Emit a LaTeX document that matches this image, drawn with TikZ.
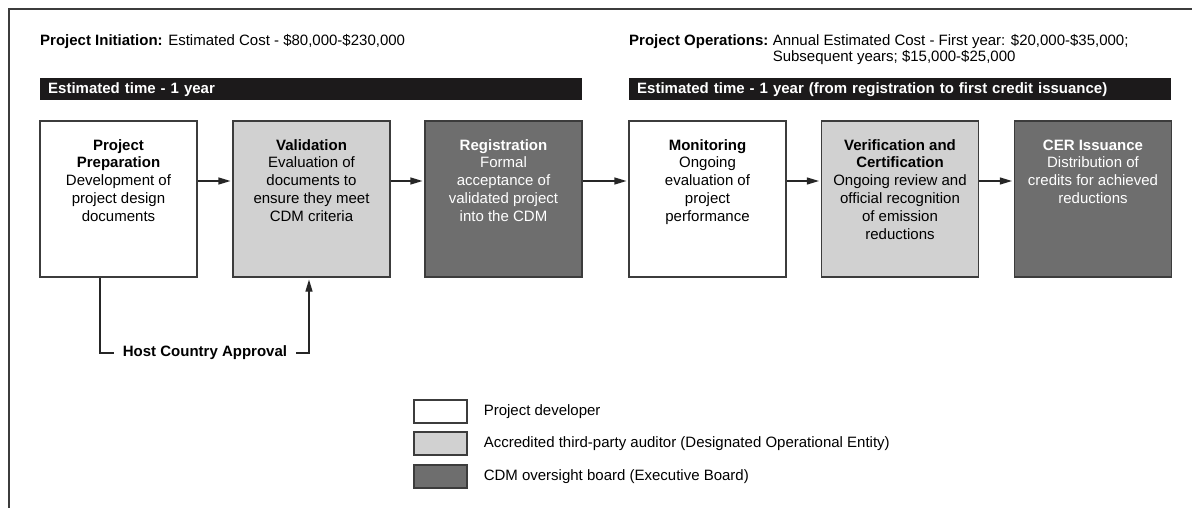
\documentclass[tikz,border=0pt]{standalone}
\usepackage{fontspec}
\setmainfont{Liberation Sans}
\usetikzlibrary{arrows.meta,positioning}
\definecolor{audgray}{HTML}{D1D1D1}
\definecolor{brdgray}{HTML}{6E6E6E}
\definecolor{edge}{HTML}{3C3C3C}
\definecolor{barblack}{HTML}{1C1A1B}
\newcommand{\stg}[2]{\parbox[c][156pt][t]{157pt}{\centering\rule{0pt}{29pt}\textbf{#1}\\#2}}

\begin{document}
\begin{tikzpicture}[x=1pt,y=-1pt,font=\fontsize{15}{17.8}\selectfont,
	stgbox/.style={draw=edge,line width=1.1pt,inner sep=0pt},
	devbox/.style={stgbox,fill=white}, audbox/.style={stgbox,fill=audgray},
	brdbox/.style={stgbox,fill=brdgray,text=white},
	keybox/.style={minimum width=53pt,minimum height=23pt},
	bar/.style={fill=barblack,text=white,font=\fontsize{15}{18}\selectfont\bfseries,
		text width=526pt,inner xsep=8pt,inner ysep=0pt,minimum height=22pt,anchor=north west},
	link/.style={draw=black!85,line width=1.1pt},
	arr/.style={link,-{Triangle[length=12pt,width=7pt]},shorten >=2pt}]
	\useasboundingbox (0,0) rectangle (1192,508);
	\draw [edge, line width=1.4pt] (9,508) -- (9,9) -- (1192,9);

	\node [anchor=base west, inner sep=0pt] (init) at (40,46) {\textbf{Project Initiation:} Estimated Cost - \$80,000-\$230,000};
	\node [anchor=base west, inner sep=0pt] (opsLabel) at (629,46) {\textbf{Project Operations:}};
	\node [anchor=base west, inner sep=0pt, xshift=4pt] (opsCost) at (opsLabel.base east) {Annual Estimated Cost - First year: \$20,000-\$35,000;};
	\node [anchor=base west, inner sep=0pt] (opsNext) at ([yshift=-16pt]opsCost.base west) {Subsequent years; \$15,000-\$25,000};

	\node [bar] (timeInit) at (40,78) {Estimated time - 1 year};
	\node [bar] (timeOps) at (629,78) {Estimated time - 1 year (from registration to first credit issuance)};

	\node [devbox] (prep) at (118.5,199) {\stg{Project\\Preparation}{Development of\\project design\\documents}};
	\node [audbox] (val) at (311.5,199) {\stg{Validation}{Evaluation of\\documents to\\ensure they meet\\CDM criteria}};
	\node [brdbox] (reg) at (503.5,199) {\stg{Registration}{Formal\\acceptance of\\validated project\\into the CDM}};
	\node [devbox] (mon) at (707.5,199) {\stg{Monitoring}{Ongoing\\evaluation of\\project\\performance}};
	\node [audbox] (ver) at (900,199) {\stg{Verification and\\Certification}{Ongoing review and\\official recognition\\of emission\\reductions}};
	\node [brdbox] (cer) at (1093,199) {\stg{CER Issuance}{Distribution of\\credits for achieved\\reductions}};

	\coordinate (flow) at (0,181);
	\foreach \a/\b in {prep/val,val/reg,reg/mon,mon/ver,ver/cer}
		\draw [arr] (\a.east |- flow) -- (\b.west |- flow);

	\node [font=\fontsize{15}{18}\selectfont\bfseries, inner xsep=9pt, inner ysep=2pt] (hca) at (205,353) {Host Country Approval};
	\coordinate (hcaL) at (100,353);
	\coordinate (hcaR) at (309,353);
	\draw [link] (prep.south -| hcaL) |- (hca.west);
	\draw [arr] (hca.east) -| (val.south -| hcaR);

	\node [devbox, keybox] (keyDev) at (440.5,411.5) {};
	\node [audbox, keybox] (keyAud) at (440.5,443.5) {};
	\node [brdbox, keybox] (keyBrd) at (440.5,476.5) {};
	\node [right=16pt of keyDev, inner sep=0pt] (txtDev) {Project developer};
	\node [right=16pt of keyAud, inner sep=0pt] (txtAud) {Accredited third-party auditor (Designated Operational Entity)};
	\node [right=16pt of keyBrd, inner sep=0pt] (txtBrd) {CDM oversight board (Executive Board)};
\end{tikzpicture}
\end{document}
